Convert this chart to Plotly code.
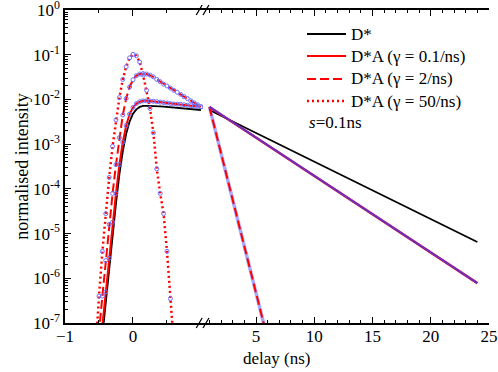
import plotly.graph_objects as go

# ---- data (delay in ns, normalised intensity) ----
t_left = [-0.6, -0.55, -0.5, -0.45, -0.4, -0.35, -0.3, -0.25, -0.2, -0.15, -0.1,
          -0.05, 0.0, 0.05, 0.1, 0.15, 0.2, 0.25, 0.3, 0.35, 0.4, 0.45, 0.5,
          0.55, 0.6, 0.65, 0.7, 0.75, 0.8, 0.85, 0.9, 0.95, 1.0]

dstar_left = [8e-11, 1.3e-9, 8.9e-9, 5.2e-8, 3.0e-7, 1.7e-6, 1.05e-5, 4.7e-5, 2.1e-4,
              6.9e-4, 1.7e-3, 3.2e-3, 4.8e-3, 6.0e-3, 6.8e-3, 7.2e-3, 7.2e-3, 7.2e-3,
              7.2e-3, 7.1e-3, 7.0e-3, 6.9e-3, 6.8e-3, 6.7e-3, 6.6e-3, 6.5e-3, 6.4e-3,
              6.3e-3, 6.2e-3, 6.1e-3, 6.0e-3, 5.9e-3, 5.8e-3]

g01_left = [1e-10, 2.5e-9, 1.6e-8, 8.9e-8, 5.0e-7, 2.8e-6, 1.8e-5, 7.9e-5, 3.5e-4,
            1.1e-3, 2.6e-3, 4.7e-3, 6.6e-3, 8.1e-3, 8.9e-3, 9.3e-3, 9.3e-3, 9.2e-3,
            9.1e-3, 8.9e-3, 8.7e-3, 8.5e-3, 8.3e-3, 8.1e-3, 7.9e-3, 7.85e-3, 7.8e-3,
            7.6e-3, 7.4e-3, 7.2e-3, 7.15e-3, 7.0e-3, 6.9e-3]

g2_left = [1e-9, 1e-8, 6.3e-8, 4.0e-7, 2.5e-6, 1.6e-5, 7.9e-5, 3.5e-4, 1.4e-3,
           4.5e-3, 1.05e-2, 1.9e-2, 2.75e-2, 3.4e-2, 3.7e-2, 3.8e-2, 3.7e-2, 3.5e-2,
           3.2e-2, 2.8e-2, 2.5e-2, 2.2e-2, 2.0e-2, 1.8e-2, 1.6e-2, 1.45e-2, 1.3e-2,
           1.16e-2, 1.05e-2, 9.3e-3, 8.4e-3, 7.6e-3, 6.8e-3]

g50_left = [1.6e-9, 3.2e-8, 4.0e-7, 4.0e-6, 2.8e-5, 1.8e-4, 8.9e-4, 3.5e-3, 1.1e-2,
            2.8e-2, 5.4e-2, 8.5e-2, 1.02e-1, 9.5e-2, 6.8e-2, 3.5e-2, 1.6e-2, 6.3e-3,
            1.8e-3, 2.8e-4, 7.9e-5, 2.8e-5, 4.0e-6, 3.5e-7, 4.0e-8, 3.2e-9,
            None, None, None, None, None, None, None]

t_right = [1, 24]
dstar_right = [5.8e-3, 6.5e-6]
g01_right = [6.8e-3, 7.8e-7]
t_right_g2 = [1, 6]
g2_right = [6.8e-3, 4.3e-8]

legend_labels = ['D*', 'D*A (γ = 0.1/ns)', 'D*A (γ = 2/ns)', 'D*A (γ = 50/ns)']

x_left_ticks = [-1, 0]
x_right_ticks = [5, 10, 15, 20, 25]
y_ticks = [1e-7, 1e-6, 1e-5, 1e-4, 1e-3, 1e-2, 1e-1, 1]
y_ticktext = ['10<sup>-7</sup>', '10<sup>-6</sup>', '10<sup>-5</sup>', '10<sup>-4</sup>',
              '10<sup>-3</sup>', '10<sup>-2</sup>', '10<sup>-1</sup>', '10<sup>0</sup>']

FONT = 'Liberation Serif'
FS = 17
RED = 'rgb(255,0,0)'
BLUE = 'rgb(110,110,255)'
DASH = '9px,4px'
DOT = '2px,3px'

fig = go.Figure()

# left panel
fig.add_trace(go.Scatter(x=t_left, y=dstar_left, mode='lines',
                         line=dict(color='black', width=1.8), xaxis='x', yaxis='y'))
fig.add_trace(go.Scatter(x=t_left, y=g01_left, mode='lines',
                         line=dict(color=RED, width=2), xaxis='x', yaxis='y'))
fig.add_trace(go.Scatter(x=t_left, y=g2_left, mode='lines',
                         line=dict(color=RED, width=2, dash=DASH), xaxis='x', yaxis='y'))
fig.add_trace(go.Scatter(x=t_left, y=g50_left, mode='lines',
                         line=dict(color=RED, width=2.5, dash=DOT), xaxis='x', yaxis='y'))
for ys in (g01_left, g2_left, g50_left):
    fig.add_trace(go.Scatter(x=t_left, y=ys, mode='markers',
                             marker=dict(symbol='circle-open', size=4, color=BLUE,
                                         line=dict(width=1, color=BLUE)),
                             xaxis='x', yaxis='y'))

# right panel
fig.add_trace(go.Scatter(x=t_right, y=dstar_right, mode='lines',
                         line=dict(color='black', width=1.8), xaxis='x2', yaxis='y'))
fig.add_trace(go.Scatter(x=t_right_g2, y=g2_right, mode='lines',
                         line=dict(color='rgba(110,110,255,0.6)', width=3.5),
                         xaxis='x2', yaxis='y'))
fig.add_trace(go.Scatter(x=t_right_g2, y=g2_right, mode='lines',
                         line=dict(color=RED, width=2, dash=DASH), xaxis='x2', yaxis='y'))
fig.add_trace(go.Scatter(x=t_right, y=g01_right, mode='lines',
                         line=dict(color=RED, width=2.5), xaxis='x2', yaxis='y'))
fig.add_trace(go.Scatter(x=t_right, y=g01_right, mode='lines',
                         line=dict(color='rgba(60,60,255,0.75)', width=2),
                         xaxis='x2', yaxis='y'))

split = 0.3255
axis_common = dict(showline=True, linecolor='black', linewidth=1.5, ticks='inside',
                   ticklen=6, tickwidth=1.2, tickcolor='black', showgrid=False,
                   zeroline=False, mirror='ticks', ticklabeloverflow='allow',
                   ticklabelstandoff=-3, automargin=False,
                   tickfont=dict(family=FONT, size=FS, color='black'))
y_minor = [m * 10 ** e for e in range(-7, 0) for m in range(2, 10)]

fig.update_layout(
    width=498, height=372,
    margin=dict(l=65, r=9, t=10, b=49),
    paper_bgcolor='white', plot_bgcolor='white',
    font=dict(family=FONT, size=FS, color='black'),
    showlegend=False,
    xaxis=dict(domain=[0, split], range=[-1, 1.03], anchor='y',
               tickmode='array', tickvals=x_left_ticks,
               minor=dict(tickmode='array', tickvals=[-0.5, 0.5], ticks='inside',
                          ticklen=3, tickcolor='black'),
               **axis_common),
    xaxis2=dict(domain=[split, 1], range=[0.45, 25], anchor='y',
                tickmode='array', tickvals=x_right_ticks,
                minor=dict(tickmode='array', tickvals=[v for v in range(1, 25) if v % 5],
                           ticks='inside', ticklen=3, tickcolor='black'),
                **axis_common),
    yaxis=dict(type='log', range=[-7, 0], anchor='x', domain=[0, 1], automargin=False,
               ticklabeloverflow='allow',
               showline=True, linecolor='black', linewidth=1.5, ticks='inside',
               ticklen=6, tickwidth=1.2, tickcolor='black', showgrid=False, zeroline=False,
               tickmode='array', tickvals=y_ticks, ticktext=y_ticktext,
               tickfont=dict(family=FONT, size=FS, color='black'),
               minor=dict(tickmode='array', tickvals=y_minor,
                          ticks='inside', ticklen=3, tickcolor='black'),
               title=dict(text='normalised intensity', font=dict(family=FONT, size=18),
                          standoff=0)),
    yaxis3=dict(type='log', range=[-7, 0], anchor='x2', overlaying='y', side='right',
                automargin=False,
                showline=True, linecolor='black', linewidth=1.5, ticks='inside',
                ticklen=6, tickwidth=1.2, tickcolor='black', showgrid=False,
                zeroline=False, showticklabels=False,
                tickmode='array', tickvals=y_ticks,
                minor=dict(tickmode='array', tickvals=y_minor,
                           ticks='inside', ticklen=3, tickcolor='black')),
)

# hand-placed legend (pixel rows converted to paper units)
def px(xp):
    return (xp - 65) / 424


def py(yp):
    return (323 - yp) / 313


legend_styles = [dict(color='black', width=1.8), dict(color=RED, width=2),
                 dict(color=RED, width=2, dash=DASH), dict(color=RED, width=2.5, dash=DOT)]
rows = [34, 56, 79, 101]
for label, style, row in zip(legend_labels, legend_styles, rows):
    fig.add_shape(type='line', xref='paper', yref='paper', x0=px(307), x1=px(346),
                  y0=py(row), y1=py(row), line=style)
    fig.add_annotation(text=label, xref='paper', yref='paper', x=px(349), y=py(row),
                       xanchor='left', yanchor='middle', showarrow=False,
                       font=dict(family=FONT, size=FS))
fig.add_annotation(text='<i>s</i>=0.1ns', xref='paper', yref='paper', x=px(307), y=py(122),
                   xanchor='left', yanchor='middle', showarrow=False,
                   font=dict(family=FONT, size=FS))

# x title spans both panels
fig.add_annotation(text='delay (ns)', xref='paper', yref='paper', x=px(277), y=py(358),
                   xanchor='center', yanchor='middle', showarrow=False,
                   font=dict(family=FONT, size=FS))

# axis break marks "//"
for yc in (0.0, 1.0):
    for dx in (-0.012, 0.004):
        fig.add_shape(type='line', xref='paper', yref='paper',
                      x0=split + dx - 0.004, y0=yc - 0.016,
                      x1=split + dx + 0.01, y1=yc + 0.016,
                      line=dict(color='black', width=1.3))

fig.write_html("out.html", config={'displayModeBar': False},
               post_script="document.body.style.margin='0';")
